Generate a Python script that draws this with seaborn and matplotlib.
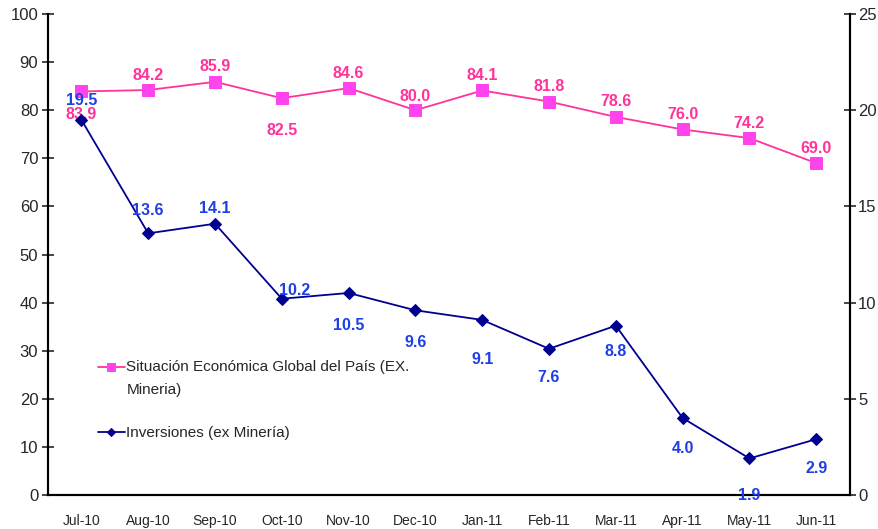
import numpy as np
import pandas as pd
import matplotlib.pyplot as plt
from matplotlib.offsetbox import DrawingArea
import seaborn as sns

# Datos
meses = ["Jul-10", "Aug-10", "Sep-10", "Oct-10", "Nov-10", "Dec-10",
         "Jan-11", "Feb-11", "Mar-11", "Apr-11", "May-11", "Jun-11"]
situacion = [83.9, 84.2, 85.9, 82.5, 84.6, 80.0, 84.1, 81.8, 78.6, 76.0, 74.2, 69.0]
inversiones = [19.5, 13.6, 14.1, 10.2, 10.5, 9.6, 9.1, 7.6, 8.8, 4.0, 1.9, 2.9]

# desplazamiento vertical de etiquetas (pixeles, + arriba)
dy_sit = [-23, 15, 15, -32, 15, 14, 15, 15, 15, 15, 15, 15]
dy_inv = [19, 23, 15, 8, -33, -32, -40, -29, -26, -30, -37, -29]
dx_inv = [0, 0, 0, 13, 0, 0, 0, 0, 0, 0, 0, 0]

df = pd.DataFrame({"mes": meses, "x": range(len(meses)),
                   "situacion": situacion, "inversiones": inversiones})

sns.set_style("white")
plt.rcParams['font.family'] = ['Liberation Sans', 'DejaVu Sans']

rosa = "#FF3399"
rosa_m = "#FF44EE"
azul = "#000090"
azul_t = "#1F3FE6"
px = 0.72  # puntos por pixel a dpi 100

fig = plt.figure(figsize=(8.79, 5.29), dpi=100)
ax = fig.add_axes([0.0546, 0.0643, 0.912, 0.9092])
ax2 = ax.twinx()

sns.lineplot(data=df, x="x", y="situacion", ax=ax, color=rosa, lw=1.3,
             marker="s", markersize=8, markerfacecolor=rosa_m, markeredgecolor=rosa_m,
             label="Situación Económica Global del País (EX.\nMineria)", legend=False)
sns.lineplot(data=df, x="x", y="inversiones", ax=ax2, color=azul, lw=1.3,
             marker="D", markersize=6, markerfacecolor=azul, markeredgecolor=azul,
             label="Inversiones (ex Minería)", legend=False)

for i, v in enumerate(situacion):
    ax.annotate(f"{v:.1f}", (i, v), xytext=(0, dy_sit[i] * px), textcoords="offset points",
                ha="center", va="center", color=rosa, fontsize=11.5, fontweight="bold")
for i, v in enumerate(inversiones):
    ax2.annotate(f"{v:.1f}", (i, v), xytext=(dx_inv[i] * px, dy_inv[i] * px),
                 textcoords="offset points",
                 ha="center", va="center", color=azul_t, fontsize=11.5, fontweight="bold")

ax.set_xlim(-0.5, 11.5)
ax.set_ylim(0, 100)
ax2.set_ylim(0, 25)
ax.set_yticks(range(0, 101, 10))
ax2.set_yticks(range(0, 26, 5))
ax.set_xticks(range(12))
ax.set_xticklabels(meses, fontsize=10)
ax.set_xticks([i + 0.5 for i in range(-1, 12)], minor=True)
ax.tick_params(axis="x", which="major", length=0, pad=14)
ax.tick_params(axis="x", which="minor", direction="inout", length=8, width=1.2)
ax.tick_params(axis="y", direction="inout", length=8, width=1.2, labelsize=12, pad=3)
ax2.tick_params(axis="y", direction="inout", length=8, width=1.2, labelsize=12, pad=2)
ax.set_xlabel("")
ax.set_ylabel("")
ax2.set_ylabel("")

for a in (ax, ax2):
    a.spines["top"].set_visible(False)
    for s in ("left", "right", "bottom"):
        a.spines[s].set_linewidth(1.5)
        a.spines[s].set_color("black")

h1, l1 = ax.get_legend_handles_labels()
h2, l2 = ax2.get_legend_handles_labels()
leg = ax.legend(h1 + h2, l1 + l2, loc="upper left", bbox_to_anchor=(0.062, 0.281),
                frameon=False, fontsize=11, handlelength=1.8, handletextpad=0.08,
                labelspacing=1.9, markerscale=0.75, borderaxespad=0, borderpad=0)
for t in leg.get_texts():
    t.set_linespacing(1.85)

# subir el simbolo de la primera entrada a la altura de la primera linea
cajas = leg.findobj(DrawingArea)
if cajas:
    for art in cajas[0].get_children():
        art.set_ydata(np.asarray(art.get_ydata()) + 8.3)

fig.savefig("out.png", dpi=100)
